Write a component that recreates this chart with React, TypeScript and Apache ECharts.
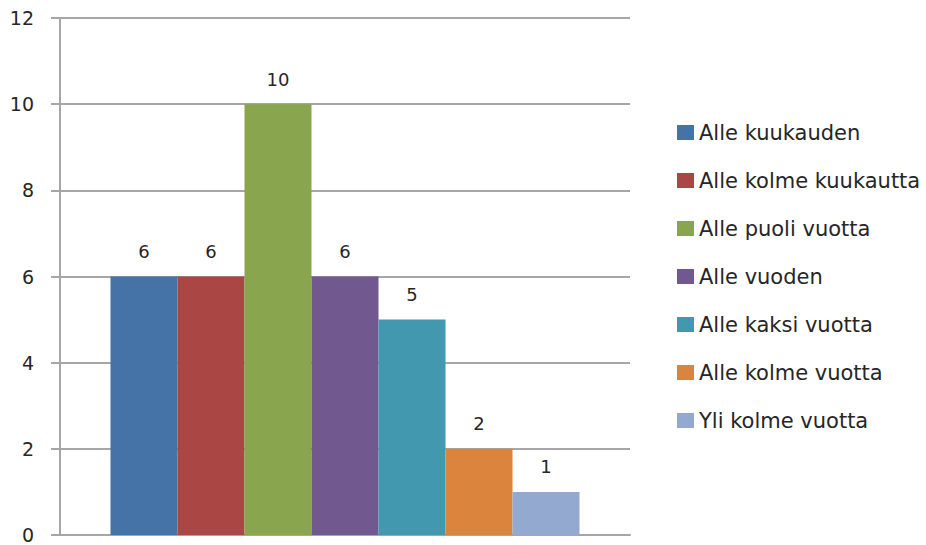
import React, { useEffect, useRef } from "react";
import * as echarts from "echarts";

const seriesNames = [
  "Alle kuukauden",
  "Alle kolme kuukautta",
  "Alle puoli vuotta",
  "Alle vuoden",
  "Alle kaksi vuotta",
  "Alle kolme vuotta",
  "Yli kolme vuotta",
];
const seriesValues = [6, 6, 10, 6, 5, 2, 1];
const colors = ["#4572A7", "#AA4643", "#89A54E", "#71588F", "#4198AF", "#DB843D", "#93A9CF"];
const categories = [""];

export default function App() {
  const ref = useRef<HTMLDivElement>(null);
  useEffect(() => {
    if (!ref.current) return;
    const chart = echarts.init(ref.current, null, { renderer: "svg" });
    const font = "'DejaVu Sans', sans-serif";
    chart.setOption({
      animation: false,
      backgroundColor: "#ffffff",
      grid: { left: 60, right: 296, top: 18, bottom: 10, containLabel: false },
      legend: {
        orient: "vertical",
        left: 672,
        top: 117,
        itemWidth: 17,
        itemHeight: 15,
        itemGap: 27,
        icon: "rect",
        textStyle: { fontFamily: font, fontSize: 21, color: "#262626" },
        data: seriesNames,
      },
      xAxis: {
        type: "category",
        data: categories,
        axisLine: { show: true, lineStyle: { color: "#A6A6A6", width: 2 } },
        axisTick: { show: false },
        axisLabel: { show: false },
      },
      yAxis: {
        type: "value",
        min: 0,
        max: 12,
        interval: 2,
        axisLine: { show: true, lineStyle: { color: "#A6A6A6", width: 2 } },
        axisTick: { show: true, length: 9, lineStyle: { color: "#A6A6A6", width: 2 } },
        splitLine: { show: true, lineStyle: { color: "#A6A6A6", width: 2 } },
        axisLabel: { fontFamily: font, fontSize: 19, color: "#262626", margin: 26 },
      },
      series: seriesNames.map((name, i) => ({
        name,
        type: "bar",
        data: [seriesValues[i]],
        barWidth: 67,
        barGap: "0%",
        itemStyle: { color: colors[i] },
        label: {
          show: true,
          position: "top",
          distance: 16,
          fontFamily: font,
          fontSize: 18,
          color: "#262626",
        },
      })),
    });
    return () => chart.dispose();
  }, []);
  return <div ref={ref} style={{ width: 926, height: 545, position: "absolute", left: 0, top: 0 }} />;
}
